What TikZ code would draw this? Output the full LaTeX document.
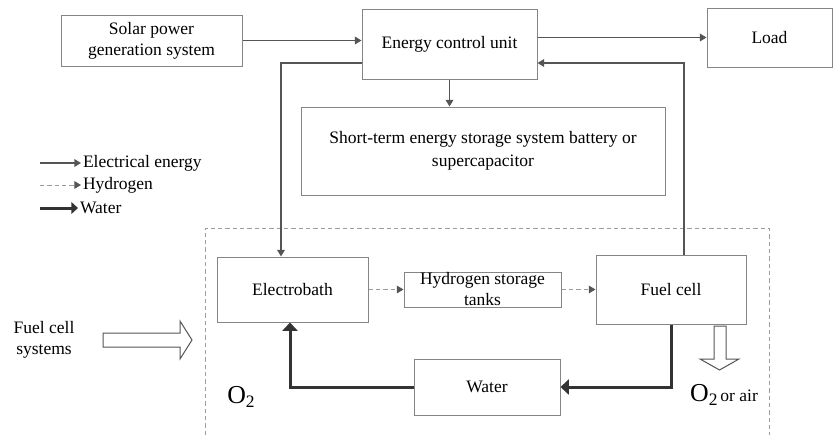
\documentclass[tikz,border=0pt]{standalone}
\usepackage{fontspec}
\setmainfont{Liberation Serif}
\usepackage{tikz}
\usetikzlibrary{arrows.meta,calc,positioning}
\definecolor{boxgray}{HTML}{858585}
\definecolor{linegray}{HTML}{555555}
\definecolor{dashgray}{HTML}{9C9C9C}
\definecolor{watergray}{HTML}{333333}

\begin{document}
\begin{tikzpicture}[
  x=0.6pt, y=-0.6pt,
  font=\fontsize{10.5}{12.6}\selectfont,
  blk/.style   = {draw=boxgray, line width=0.6pt, align=center,
                  minimum width=#1, inner sep=1pt},
  lgd/.style   = {anchor=west, inner sep=1pt},
  elec/.style  = {-{Triangle[length=4pt,width=4.6pt]},
                  line width=0.8pt, draw=linegray},
  hyd/.style   = {-{Triangle[length=4pt,width=4.6pt,color=linegray]},
                  dash pattern=on 2.6pt off 1.8pt,
                  line width=0.6pt, draw=dashgray},
  wat/.style   = {-{Triangle[length=5pt,width=9pt]},
                  line width=1.8pt, draw=watergray},
  hollow/.style= {draw=linegray, line width=0.6pt, fill=white},
  node distance = 20.6pt,
]
\useasboundingbox (0,0) rectangle (833,435);

% upper row
\node[blk=108.6pt, minimum height=30.6pt] (solar) at (151.5,40.5) {Solar power\\generation system};
\node[blk=105pt, minimum height=42pt] (ecu) at (449.5,44) {Energy control unit};
\node[blk=75pt, minimum height=35.4pt] (load) at (769.5,37.5) {Load};
\node[blk=218.4pt, minimum height=52.8pt, font=\fontsize{10.5}{13.8}\selectfont] (stor) at (483,151)
  {Short-term energy storage system battery or\\supercapacitor};

% legend
\coordinate (lg1) at (40,163);
\coordinate (lg2) at (40,185);
\coordinate (lg3) at (40,208);
\node[lgd] (lgelec) at (81,163) {Electrical energy};
\node[lgd] (lghyd) at (81,185) {Hydrogen};
\node[lgd] (lgwat) at (78,208) {Water};
\draw[elec] (lg1) -- (lgelec.west);
\draw[hyd] (lg2) -- (lghyd.west);
\draw[wat, -{Triangle[length=4pt,width=7pt]}] (lg3) -- (lgwat.west);

% fuel cell system
\draw[dashgray, line width=0.6pt, dash pattern=on 2.6pt off 1.8pt]
  (205,435) |- (769,228) -- (769,435);
\node[blk=90.6pt, minimum height=39pt] (bath) at (292.5,289.5) {Electrobath};
\node[blk=94.2pt, minimum height=21pt, inner sep=0pt, right=21pt of bath] (tank) {Hydrogen storage\\tanks};
\node[blk=90pt, minimum height=41.4pt, right=20.4pt of tank] (fc) {Fuel cell};
\node[blk=87.6pt, minimum height=33.6pt] (water) at (487,387) {Water};

\node[align=center] (fcs) at (44,340) {Fuel cell\\systems};
\node[inner sep=0pt] (o2) at (241,397) {{\fontsize{15.5}{16}\selectfont O}\raisebox{-2.6pt}{2}};
\node[inner sep=0pt] (o2air) at (724,395) {{\fontsize{15.5}{16}\selectfont O}\raisebox{-2.6pt}{2}\,or air};

% hollow arrows
\draw[hollow] (103,333) -- (180,333) -- (180,321) -- (192,340) -- (180,359)
  -- (180,347) -- (103,347) -- cycle;
\draw[hollow] (714,326) -- (714,359) -- (700,359) -- (719.5,370) -- (739,359)
  -- (726,359) -- (726,326) -- cycle;

% electrical energy
\draw[elec] (solar.east) -- (solar.east -| ecu.west);
\draw[elec] (load.west -| ecu.east) -- (load.west);
\draw[elec] (ecu.south) -- (ecu.south |- stor.north);
\draw[elec] ($(ecu.west)+(0,19)$) -| ($(bath.north)+(-11.5,0)$);
\draw[elec] ($(fc.north)+(13,0)$) |- ($(ecu.east)+(0,19)$);

% hydrogen
\draw[hyd] (bath.east) -- (tank.west);
\draw[hyd] (tank.east) -- (fc.west);

% water
\draw[wat] (fc.south) |- (water.east);
\draw[wat] (water.west) -| ($(bath.south)+(-2.5,0)$);
\end{tikzpicture}
\end{document}
